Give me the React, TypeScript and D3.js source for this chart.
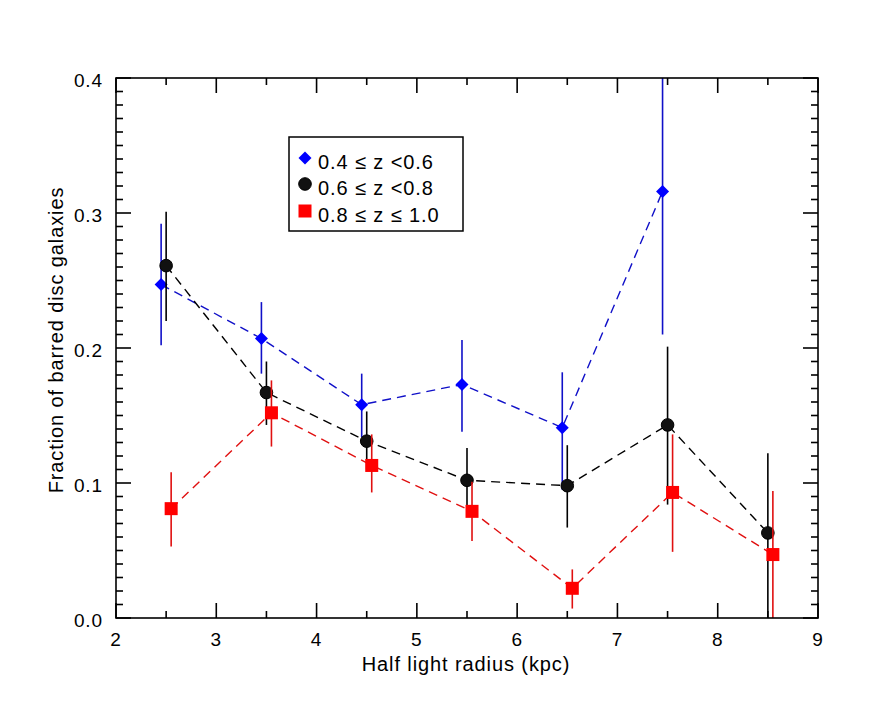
import React, { useEffect, useRef } from 'react';
import * as d3 from 'd3';

// radius bins (kpc), each series is shifted a bit so the bars don't overlap
const radiusBins = [2.5, 3.5, 4.5, 5.5, 6.5, 7.5, 8.5];

const lowZ = [0.247, 0.207, 0.158, 0.173, 0.141, 0.316];
const lowZHi = [0.292, 0.234, 0.181, 0.206, 0.182, 0.43];
const lowZLo = [0.202, 0.181, 0.134, 0.138, 0.095, 0.21];

const midZ = [0.261, 0.167, 0.131, 0.102, 0.098, 0.143, 0.063];
const midZHi = [0.301, 0.19, 0.153, 0.126, 0.128, 0.201, 0.122];
const midZLo = [0.22, 0.143, 0.11, 0.079, 0.067, 0.084, 0.0];

const highZ = [0.081, 0.152, 0.113, 0.079, 0.022, 0.093, 0.047];
const highZHi = [0.108, 0.176, 0.136, 0.101, 0.036, 0.136, 0.094];
const highZLo = [0.053, 0.127, 0.093, 0.057, 0.007, 0.049, 0.0];

const xTicks = [2, 3, 4, 5, 6, 7, 8, 9];
const yTicks = [0.0, 0.1, 0.2, 0.3, 0.4];

const legendLabels = ['0.4 \u2264 z <0.6', '0.6 \u2264 z <0.8', '0.8 \u2264 z \u2264 1.0'];

const W = 889;
const H = 711;
const FONT = '"Liberation Sans", Arial, sans-serif';

const App: React.FC = () => {
    const svgRef = useRef<SVGSVGElement | null>(null);

    useEffect(() => {
        const svg = d3.select(svgRef.current);
        svg.selectAll('*').remove();

        const left = 116, right = 818, top = 78, bottom = 618;

        const x = d3.scaleLinear().domain([2, 9]).range([left, right]);
        const y = d3.scaleLinear().domain([0, 0.4]).range([bottom, top]);

        svg.append('rect').attr('width', W).attr('height', H).attr('fill', 'white');

        svg.append('defs').append('clipPath').attr('id', 'plotclip')
            .append('rect')
            .attr('x', left).attr('y', top)
            .attr('width', right - left).attr('height', bottom - top);

        const plot = svg.append('g').attr('clip-path', 'url(#plotclip)');

        const series = [
            { vals: lowZ, hi: lowZHi, lo: lowZLo, dx: -0.05, color: '#0000ff', line: '#1010c8', shape: 'diamond' },
            { vals: midZ, hi: midZHi, lo: midZLo, dx: 0, color: '#000000', line: '#000000', shape: 'circle' },
            { vals: highZ, hi: highZHi, lo: highZLo, dx: 0.05, color: '#ff0000', line: '#e01010', shape: 'square' },
        ];

        const drawMarker = (g: any, shape: string, cx: number, cy: number, color: string) => {
            if (shape === 'diamond') {
                g.append('path')
                    .attr('d', `M${cx},${cy - 6.5}L${cx + 6.5},${cy}L${cx},${cy + 6.5}L${cx - 6.5},${cy}Z`)
                    .attr('fill', color);
            } else if (shape === 'circle') {
                g.append('circle')
                    .attr('cx', cx).attr('cy', cy).attr('r', 6.3)
                    .attr('fill', '#111').attr('stroke', '#000').attr('stroke-width', 1);
            } else {
                g.append('rect')
                    .attr('x', cx - 6.5).attr('y', cy - 6.5)
                    .attr('width', 13).attr('height', 13)
                    .attr('fill', color);
            }
        };

        series.forEach((s) => {
            const pts = s.vals.map((v, i) => [radiusBins[i] + s.dx, v] as [number, number]);
            const line = d3.line<[number, number]>().x((d) => x(d[0])).y((d) => y(d[1]));

            plot.append('path')
                .attr('d', line(pts))
                .attr('fill', 'none')
                .attr('stroke', s.line)
                .attr('stroke-width', 1.4)
                .attr('stroke-dasharray', '9,6');

            pts.forEach((p, i) => {
                plot.append('line')
                    .attr('x1', x(p[0])).attr('x2', x(p[0]))
                    .attr('y1', y(s.hi[i])).attr('y2', y(s.lo[i]))
                    .attr('stroke', s.line)
                    .attr('stroke-width', 1.6);
            });

            pts.forEach((p) => drawMarker(plot, s.shape, x(p[0]), y(p[1]), s.color));
        });

        // axes box
        const axes = svg.append('g').attr('stroke', '#000').attr('stroke-width', 1.6);
        axes.append('rect')
            .attr('x', left).attr('y', top)
            .attr('width', right - left).attr('height', bottom - top)
            .attr('fill', 'none');

        const xMinor = d3.range(2.5, 9, 1);
        xTicks.forEach((t) => {
            axes.append('line').attr('x1', x(t)).attr('x2', x(t)).attr('y1', bottom).attr('y2', bottom - 15);
            axes.append('line').attr('x1', x(t)).attr('x2', x(t)).attr('y1', top).attr('y2', top + 15);
        });
        xMinor.forEach((t) => {
            axes.append('line').attr('x1', x(t)).attr('x2', x(t)).attr('y1', bottom).attr('y2', bottom - 7);
            axes.append('line').attr('x1', x(t)).attr('x2', x(t)).attr('y1', top).attr('y2', top + 7);
        });

        const yMinor = d3.range(1, 40).filter((k) => k % 10 !== 0).map((k) => k / 100);
        yTicks.forEach((t) => {
            axes.append('line').attr('x1', left).attr('x2', left + 15).attr('y1', y(t)).attr('y2', y(t));
            axes.append('line').attr('x1', right).attr('x2', right - 15).attr('y1', y(t)).attr('y2', y(t));
        });
        yMinor.forEach((t) => {
            axes.append('line').attr('x1', left).attr('x2', left + 7).attr('y1', y(t)).attr('y2', y(t));
            axes.append('line').attr('x1', right).attr('x2', right - 7).attr('y1', y(t)).attr('y2', y(t));
        });

        const txt = svg.append('g')
            .attr('font-family', FONT)
            .attr('font-size', 19)
            .attr('letter-spacing', 0.9)
            .attr('fill', '#000');

        xTicks.forEach((t) => {
            txt.append('text')
                .attr('x', x(t)).attr('y', bottom + 28)
                .attr('text-anchor', 'middle')
                .text(String(t));
        });
        yTicks.forEach((t) => {
            txt.append('text')
                .attr('x', left - 13).attr('y', y(t) + 9)
                .attr('text-anchor', 'end')
                .text(t.toFixed(1));
        });

        txt.append('text')
            .attr('x', 466).attr('y', 671)
            .attr('text-anchor', 'middle')
            .attr('font-size', 20)
            .text('Half light radius (kpc)');

        txt.append('text')
            .attr('transform', `translate(63,340) rotate(-90)`)
            .attr('text-anchor', 'middle')
            .attr('font-size', 20)
            .text('Fraction of barred disc galaxies');

        // legend
        const lg = svg.append('g');
        lg.append('rect')
            .attr('x', 289).attr('y', 137)
            .attr('width', 174).attr('height', 94)
            .attr('fill', 'white')
            .attr('stroke', '#000').attr('stroke-width', 1.5);

        const rowY = [169, 195, 222];
        series.forEach((s, i) => {
            drawMarker(lg, s.shape, 305, rowY[i] - 11, s.color);
            lg.append('text')
                .attr('x', 318).attr('y', rowY[i])
                .attr('font-family', FONT).attr('font-size', 20)
                .attr('letter-spacing', 0.9)
                .text(legendLabels[i]);
        });
    }, []);

    return <svg ref={svgRef} width={W} height={H} style={{ display: 'block', margin: '-8px' }} />;
};

export default App;
